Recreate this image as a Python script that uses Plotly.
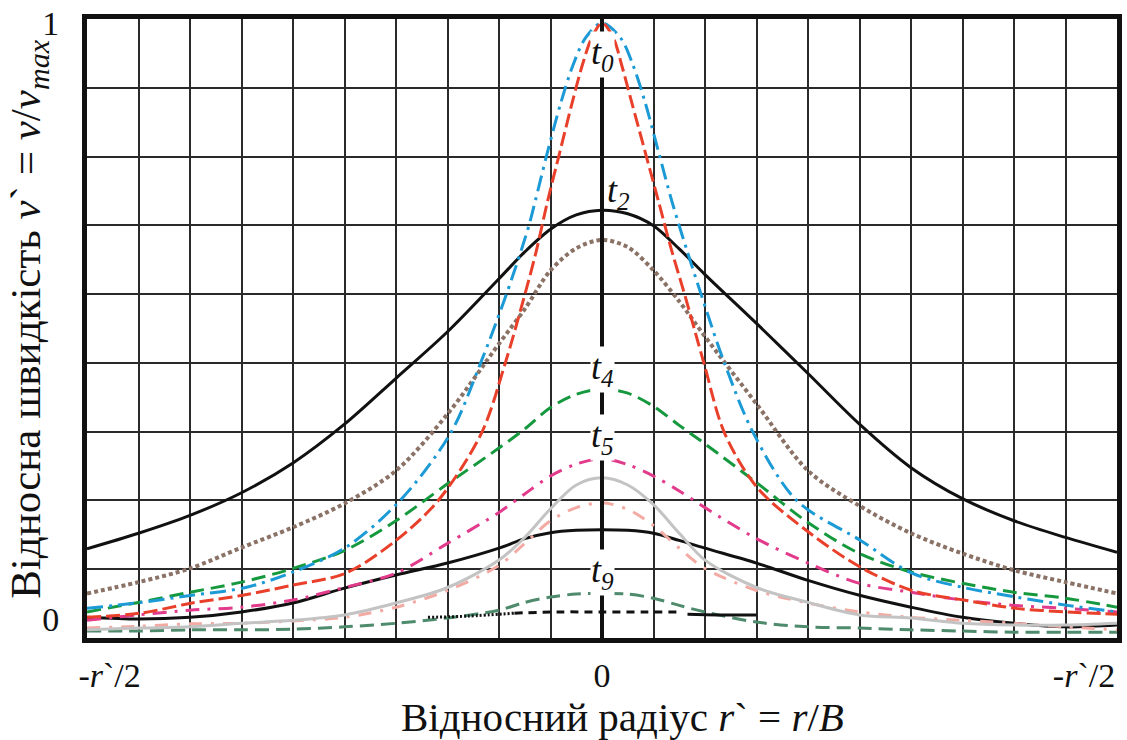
import plotly.graph_objects as go

# Relative radius r` = r/B for the broad profiles
R = [-0.5, -0.45, -0.4, -0.35, -0.3, -0.25, -0.2, -0.15, -0.1, -0.075, -0.05, -0.025, 0.0,
     0.025, 0.05, 0.075, 0.1, 0.15, 0.2, 0.25, 0.3, 0.35, 0.4, 0.45, 0.5]

# Relative velocity v` = v/v_max at each moment
V_T2 = [0.118, 0.144, 0.174, 0.212, 0.262, 0.327, 0.404, 0.482, 0.571, 0.616, 0.654, 0.678, 0.686,
        0.680, 0.660, 0.621, 0.578, 0.496, 0.412, 0.327, 0.254, 0.202, 0.165, 0.137, 0.112]
V_T3 = [0.043, 0.062, 0.085, 0.120, 0.154, 0.194, 0.249, 0.344, 0.462, 0.520, 0.585, 0.622, 0.636,
        0.624, 0.585, 0.533, 0.474, 0.361, 0.249, 0.190, 0.144, 0.110, 0.082, 0.062, 0.043]
V_T4 = [0.012, 0.028, 0.045, 0.062, 0.085, 0.115, 0.165, 0.227, 0.287, 0.319, 0.355, 0.377, 0.386,
        0.379, 0.357, 0.325, 0.294, 0.229, 0.162, 0.110, 0.079, 0.060, 0.045, 0.035, 0.020]
V_T5 = [-0.002, 0.007, 0.015, 0.020, 0.032, 0.053, 0.077, 0.127, 0.179, 0.210, 0.240, 0.260, 0.269,
        0.259, 0.240, 0.215, 0.187, 0.135, 0.094, 0.060, 0.045, 0.032, 0.023, 0.018, 0.012]
V_T6 = [-0.018, -0.015, -0.013, -0.007, -0.002, 0.007, 0.027, 0.053, 0.099, 0.137, 0.185, 0.225, 0.237,
        0.225, 0.192, 0.144, 0.099, 0.053, 0.028, 0.007, 0.002, -0.007, -0.010, -0.010, -0.007]
V_T7 = [-0.015, -0.012, -0.008, -0.007, -0.003, 0.003, 0.020, 0.048, 0.090, 0.127, 0.165, 0.187, 0.195,
        0.184, 0.157, 0.119, 0.085, 0.048, 0.027, 0.012, 0.003, -0.002, -0.007, -0.013, -0.018]
V_T8 = [0.003, 0.000, 0.003, 0.012, 0.027, 0.052, 0.074, 0.094, 0.119, 0.135, 0.145, 0.149, 0.150,
        0.149, 0.144, 0.132, 0.119, 0.094, 0.065, 0.040, 0.020, 0.003, -0.007, -0.013, -0.010]
V_T9 = [-0.020, -0.020, -0.018, -0.018, -0.017, -0.013, -0.007, 0.002, 0.015, 0.028, 0.037, 0.042, 0.043,
        0.042, 0.035, 0.023, 0.012, -0.005, -0.013, -0.015, -0.018, -0.020, -0.022, -0.022, -0.022]

# Initial moment t0, two profiles
R_T0A = [-0.5, -0.448, -0.398, -0.349, -0.3, -0.249, -0.2, -0.159, -0.117, -0.094, -0.075, -0.064,
         -0.053, -0.041, -0.029, -0.019, -0.010, 0.0, 0.011, 0.019, 0.029, 0.042, 0.055, 0.068,
         0.080, 0.099, 0.119, 0.151, 0.202, 0.251, 0.301, 0.351, 0.402, 0.452, 0.5]
V_T0A = [0.003, 0.010, 0.027, 0.040, 0.057, 0.077, 0.132, 0.199, 0.312, 0.429, 0.544, 0.616,
         0.700, 0.783, 0.866, 0.930, 0.975, 1.0, 0.975, 0.930, 0.866, 0.783, 0.700, 0.616,
         0.546, 0.429, 0.312, 0.220, 0.144, 0.087, 0.048, 0.032, 0.018, 0.012, 0.008]
R_T0B = [-0.5, -0.448, -0.398, -0.346, -0.3, -0.249, -0.196, -0.147, -0.118, -0.093, -0.072, -0.065,
         -0.053, -0.040, -0.028, -0.016, 0.0, 0.018, 0.030, 0.042, 0.055, 0.068, 0.082, 0.096,
         0.119, 0.147, 0.189, 0.251, 0.301, 0.351, 0.402, 0.452, 0.5]
V_T0B = [0.018, 0.028, 0.040, 0.053, 0.079, 0.120, 0.199, 0.312, 0.429, 0.544, 0.654, 0.700,
         0.783, 0.866, 0.930, 0.975, 1.0, 0.975, 0.930, 0.866, 0.783, 0.700, 0.621, 0.546,
         0.429, 0.312, 0.199, 0.132, 0.077, 0.053, 0.037, 0.023, 0.012]

# Residual near-zero profile in the core
R_T10 = [-0.169, -0.130, -0.085, -0.043, 0.0, 0.044, 0.073, 0.083, 0.112, 0.150]
V_T10 = [0.003, 0.005, 0.010, 0.012, 0.012, 0.012, 0.012, 0.008, 0.007, 0.007]

X_TICKS = [-0.478, 0.0, 0.468]
X_TICKTEXT = ["-<i>r</i>`/2", "0", "-<i>r</i>`/2"]
Y_TICKS = [0, 1]
Y_TICKTEXT = ["0", "1"]

X_TITLE = "Відносний радіус <i>r</i>` = <i>r</i>/<i>B</i>"
Y_TITLE = "Відносна швидкість <i>v</i>` = <i>v</i>/<i>v<sub>max</sub></i>"

# Moment labels: (index, r position, v position, covers the centre line)
T_LABELS = [("0", 0.0, 0.947, True), ("2", 0.016, 0.716, False), ("4", 0.0, 0.419, True),
            ("5", 0.0, 0.304, True), ("9", 0.0, 0.078, True)]

Y_BOT, Y_TOP = -0.0317, 1.0067
FONT = "Liberation Serif"

fig = go.Figure()


def curve(x, y, color, dash="solid", width=3.0):
    fig.add_trace(go.Scatter(x=x, y=y, mode="lines", hoverinfo="skip",
                             line=dict(color=color, width=width, dash=dash,
                                       shape="spline", smoothing=0.9)))


curve(R, V_T9, "#4e8a6c", "14px,7px")
curve(R, V_T8, "#111111")
curve(R, V_T7, "#f2aaa3", "13px,9px,3px,9px")
curve(R, V_T6, "#c3c3c3")
curve(R, V_T5, "#e23b8b", "14px,8px,3px,8px")
curve(R, V_T4, "#16993e", "14px,7px")
curve(R, V_T3, "#8a7266", "4px,3px", 4)
curve(R, V_T2, "#111111")
curve(R_T0B, V_T0B, "#1b9ad6", "16px,6px,3px,6px")
curve(R_T0A, V_T0A, "#e8402a", "14px,5px")
curve(R_T10[0:3], V_T10[0:3], "#111111", "2px,2px")
curve(R_T10[2:7], V_T10[2:7], "#111111", "8px,6px")
curve(R_T10[7:], V_T10[7:], "#111111")

# Symmetry axis r` = 0
fig.add_trace(go.Scatter(x=[0, 0], y=[Y_BOT, Y_TOP], mode="lines", hoverinfo="skip",
                         line=dict(color="#111111", width=4)))

for sub, xv, yv, cover in T_LABELS:
    fig.add_annotation(x=xv, y=yv, xref="x", yref="y", showarrow=False,
                       text=f"<i>t<sub>{sub}</sub></i>",
                       font=dict(family=FONT, size=36, color="#111111"),
                       bgcolor="white" if cover else "rgba(0,0,0,0)", borderpad=0)

# Axis titles
fig.add_annotation(x=0.52, y=-0.128, xref="paper", yref="paper", showarrow=False,
                   xanchor="center", yanchor="middle", text=X_TITLE,
                   font=dict(family=FONT, size=41, color="#111111"))
fig.add_annotation(x=-0.057, y=0.5145, xref="paper", yref="paper", showarrow=False,
                   xanchor="center", yanchor="middle", textangle=-90, text=Y_TITLE,
                   font=dict(family=FONT, size=43, color="#111111"))

grid = dict(showgrid=True, gridcolor="#2a2a2a", gridwidth=1.6, ticks="")

fig.update_layout(
    width=1127, height=740,
    margin=dict(l=87, r=5, t=16, b=102),
    paper_bgcolor="white", plot_bgcolor="white",
    showlegend=False,
    font=dict(family=FONT, color="#111111"),
    xaxis=dict(range=[-0.5, 0.5], showgrid=False, zeroline=False,
               tickmode="array", tickvals=X_TICKS, ticktext=X_TICKTEXT,
               tickfont=dict(size=34, family=FONT), ticks="", ticklabelstandoff=3,
               showline=True, mirror=True, linewidth=5, linecolor="#111111",
               minor=dict(tick0=-0.5, dtick=0.05, **grid)),
    yaxis=dict(range=[Y_BOT, Y_TOP], showgrid=False, zeroline=False,
               tickmode="array", tickvals=Y_TICKS, ticktext=Y_TICKTEXT,
               tickfont=dict(size=34, family=FONT), ticks="", ticklabelstandoff=16,
               showline=True, mirror=True, linewidth=5, linecolor="#111111",
               minor=dict(tick0=Y_BOT, dtick=(Y_TOP - Y_BOT) / 9, **grid)),
)

fig.write_html("out.html")
